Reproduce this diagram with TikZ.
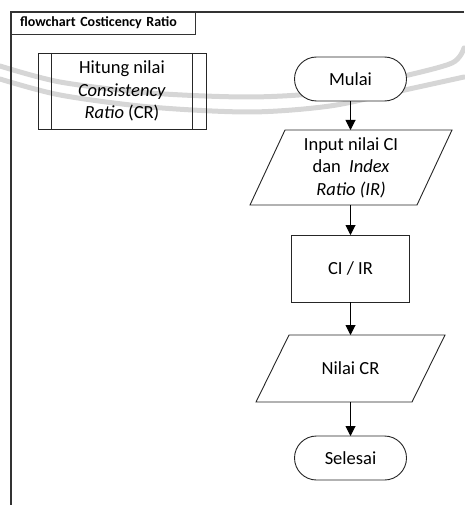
\documentclass[tikz,border=0pt]{standalone}
\usepackage{fontspec}
\setmainfont{Carlito}
\usetikzlibrary{arrows.meta,calc}
\begin{document}
\begin{tikzpicture}[x=1pt,y=-1pt,
  every node/.style={inner sep=0pt, outer sep=0pt},
  body/.style={font=\fontsize{18.5}{22.5}\selectfont, align=center},
  edge/.style={draw=black!85, line width=0.9pt},
  terminal/.style={body, edge, fill=white, rectangle, rounded corners=22pt,
    minimum width=112pt, minimum height=44pt},
  procbox/.style={body, edge, fill=white, rectangle,
    minimum width=118pt, minimum height=67pt},
  iobox/.style={body, rectangle},
  subbox/.style={body, edge, rectangle, minimum width=168pt, minimum height=76pt},
  titlebox/.style={draw=black!80, line width=0.9pt, rectangle, anchor=north west,
    text width=166pt, inner xsep=9pt, minimum height=22pt, align=left,
    font=\fontsize{14}{16}\selectfont\bfseries},
  frameline/.style={draw=black!80, line width=1.3pt},
  arr/.style={draw=black, line width=1pt, -{Triangle[width=10pt,length=10pt]}},
  band/.style={draw=black!16, line width=5pt, line cap=round}
]
\useasboundingbox (0,0) rectangle (464,505);

% faint background bands
\draw[band] plot[smooth] coordinates {(0,66) (60,82) (150,93) (250,97) (330,92) (400,77) (452,63) (464,48)};
\draw[band] plot[smooth] coordinates {(0,79) (60,95) (150,107) (250,112) (330,106) (400,91) (464,77)};

% outer frame and its title
\coordinate (fr-tr) at (464,12);
\coordinate (fr-tl) at (11,12);
\coordinate (fr-bl) at (11,505);
\draw[frameline] (fr-tr) -- (fr-tl) -- (fr-bl);
\node[titlebox] (title) at (fr-tl) {flowchart Costicency Ratio};

% predefined process
\node[subbox] (sub) at (122,91) {Hitung nilai\\\textit{Consistency}\\\textit{Ratio} (CR)};
\draw[edge] ([xshift=13.5pt]sub.north west) -- ([xshift=13.5pt]sub.south west);
\draw[edge] ([xshift=-13.5pt]sub.north east) -- ([xshift=-13.5pt]sub.south east);

% main flow
\node[terminal] (mulai) at (350.5,79) {Mulai};

% input: parallelogram drawn round an empty frame node
\node[iobox, minimum width=202pt, minimum height=75pt] (inp) at (351,167.5) {};
\filldraw[edge, fill=white] ($(inp.north west)+(35,0)$) -- (inp.north east)
  -- ($(inp.south east)+(-35,0)$) -- (inp.south west) -- cycle;
\node[iobox] (inp-text) at (inp.center) {Input nilai CI\\dan \ \textit{Index}\\\textit{Ratio (IR)}};

\node[procbox] (proc) at (350.5,268.5) {CI / IR};

% output: parallelogram drawn round an empty frame node
\node[iobox, minimum width=189pt, minimum height=67pt] (out) at (350.5,368.5) {};
\filldraw[edge, fill=white] ($(out.north west)+(33,0)$) -- (out.north east)
  -- ($(out.south east)+(-33,0)$) -- (out.south west) -- cycle;
\node[iobox] (out-text) at (out.center) {Nilai CR};

\node[terminal] (selesai) at (350.5,458) {Selesai};

\draw[arr] (mulai.south) -- (mulai.south |- inp.north);
\draw[arr] (inp.south -| proc.north) -- (proc.north);
\draw[arr] (proc.south) -- (proc.south |- out.north);
\draw[arr] (out.south) -- (selesai.north);
\end{tikzpicture}
\end{document}
